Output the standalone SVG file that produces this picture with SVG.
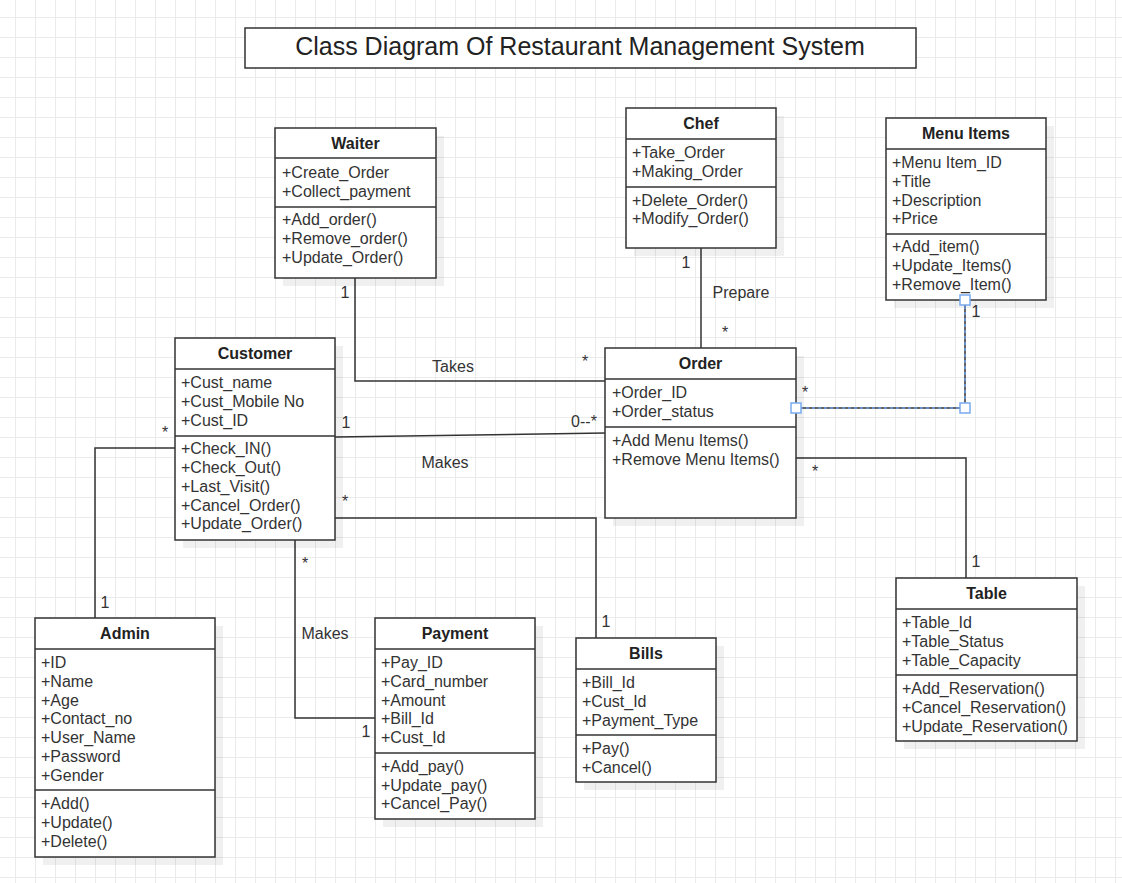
<svg xmlns="http://www.w3.org/2000/svg" width="1122" height="883" viewBox="0 0 1122 883">
<defs>
<pattern id="grid" patternUnits="userSpaceOnUse" x="15" y="17" width="20" height="20">
<path d="M0 0.5 H20 M0.5 0 V20" stroke="#ebebeb" stroke-width="1" fill="none"/>
</pattern>
<style>
.box{fill:#fff;stroke:#333;stroke-width:1.5}
.sh{fill:#000;fill-opacity:0.06}
.div{stroke:#333;stroke-width:1.5}
.t{font-family:"Liberation Sans",Arial,sans-serif;font-size:16px;fill:#333}
.h{font-family:"Liberation Sans",Arial,sans-serif;font-size:16px;font-weight:bold;fill:#222;text-anchor:middle}
.lbl{font-family:"Liberation Sans",Arial,sans-serif;font-size:16px;fill:#333;text-anchor:middle}
.ln{fill:none;stroke:#333;stroke-width:1.5}
.sel{fill:none;stroke:#6a9fe6;stroke-width:1.5;stroke-dasharray:3 3}
.hd{fill:#fff;stroke:#7aaaf0;stroke-width:1.5}
</style>
</defs>
<rect width="1122" height="883" fill="#fff"/>
<rect width="1122" height="883" fill="url(#grid)"/>

<g id="title">
<rect x="245" y="28" width="671" height="40" fill="#fff" stroke="#333" stroke-width="1.5"/>
<text x="580" y="55" font-family="Liberation Sans,Arial,sans-serif" font-size="25" fill="#222" text-anchor="middle">Class Diagram Of Restaurant Management System</text>
</g>

<g id="connectors">
<polyline class="ln" points="355,278 355,381 605,381"/>
<polyline class="ln" points="701,248 701,348"/>
<polyline class="ln" points="965,300 965,408 796,408"/>
<polyline class="sel" points="965,300 965,408 796,408"/>
<polyline class="ln" points="335,437 605,433"/>
<polyline class="ln" points="175,448 95,448 95,618"/>
<polyline class="ln" points="335,518 596,518 596,638"/>
<polyline class="ln" points="295,540 295,718 375,718"/>
<polyline class="ln" points="796,458 966,458 966,578"/>
<text class="lbl" x="345" y="298">1</text>
<text class="lbl" x="453" y="372">Takes</text>
<text class="lbl" x="585" y="367">*</text>
<text class="lbl" x="686" y="268">1</text>
<text class="lbl" x="741" y="298">Prepare</text>
<text class="lbl" x="725" y="338">*</text>
<text class="lbl" x="976" y="317">1</text>
<text class="lbl" x="805" y="398">*</text>
<text class="lbl" x="346" y="428">1</text>
<text class="lbl" x="584" y="427">0--*</text>
<text class="lbl" x="445" y="468">Makes</text>
<text class="lbl" x="165" y="438">*</text>
<text class="lbl" x="105" y="608">1</text>
<text class="lbl" x="345" y="507">*</text>
<text class="lbl" x="606" y="627">1</text>
<text class="lbl" x="305" y="569">*</text>
<text class="lbl" x="325" y="639">Makes</text>
<text class="lbl" x="366" y="737">1</text>
<text class="lbl" x="815" y="477">*</text>
<text class="lbl" x="976" y="567">1</text>
</g>

<g id="waiter">
<rect class="sh" x="283" y="136" width="161" height="150"/>
<rect class="box" x="275" y="128" width="161" height="150"/>
<line class="div" x1="275" y1="158" x2="436" y2="158"/>
<line class="div" x1="275" y1="207" x2="436" y2="207"/>
<text class="h" x="355.5" y="149">Waiter</text>
<text class="t" x="282" y="178">+Create_Order</text>
<text class="t" x="282" y="197">+Collect_payment</text>
<text class="t" x="282" y="225">+Add_order()</text>
<text class="t" x="282" y="244">+Remove_order()</text>
<text class="t" x="282" y="263">+Update_Order()</text>
</g>

<g id="chef">
<rect class="sh" x="634" y="116" width="150" height="140"/>
<rect class="box" x="626" y="108" width="150" height="140"/>
<line class="div" x1="626" y1="139" x2="776" y2="139"/>
<line class="div" x1="626" y1="187" x2="776" y2="187"/>
<text class="h" x="701" y="129">Chef</text>
<text class="t" x="632" y="158">+Take_Order</text>
<text class="t" x="632" y="177">+Making_Order</text>
<text class="t" x="632" y="206">+Delete_Order()</text>
<text class="t" x="632" y="224">+Modify_Order()</text>
</g>

<g id="menu-items">
<rect class="sh" x="894" y="126" width="160" height="182"/>
<rect class="box" x="886" y="118" width="160" height="182"/>
<line class="div" x1="886" y1="149" x2="1046" y2="149"/>
<line class="div" x1="886" y1="234" x2="1046" y2="234"/>
<text class="h" x="966" y="139">Menu Items</text>
<text class="t" x="892" y="168">+Menu Item_ID</text>
<text class="t" x="892" y="187">+Title</text>
<text class="t" x="892" y="206">+Description</text>
<text class="t" x="892" y="224">+Price</text>
<text class="t" x="892" y="252">+Add_item()</text>
<text class="t" x="892" y="271">+Update_Items()</text>
<text class="t" x="892" y="290">+Remove_Item()</text>
</g>

<g id="customer">
<rect class="sh" x="183" y="346" width="160" height="202"/>
<rect class="box" x="175" y="338" width="160" height="202"/>
<line class="div" x1="175" y1="369" x2="335" y2="369"/>
<line class="div" x1="175" y1="436" x2="335" y2="436"/>
<text class="h" x="255" y="359">Customer</text>
<text class="t" x="181" y="388">+Cust_name</text>
<text class="t" x="181" y="407">+Cust_Mobile No</text>
<text class="t" x="181" y="426">+Cust_ID</text>
<text class="t" x="181" y="454">+Check_IN()</text>
<text class="t" x="181" y="473">+Check_Out()</text>
<text class="t" x="181" y="492">+Last_Visit()</text>
<text class="t" x="181" y="511">+Cancel_Order()</text>
<text class="t" x="181" y="529">+Update_Order()</text>
</g>

<g id="order">
<rect class="sh" x="613" y="356" width="191" height="170"/>
<rect class="box" x="605" y="348" width="191" height="170"/>
<line class="div" x1="605" y1="379" x2="796" y2="379"/>
<line class="div" x1="605" y1="427" x2="796" y2="427"/>
<text class="h" x="700.5" y="369">Order</text>
<text class="t" x="612" y="398">+Order_ID</text>
<text class="t" x="612" y="417">+Order_status</text>
<text class="t" x="612" y="446">+Add Menu Items()</text>
<text class="t" x="612" y="465">+Remove Menu Items()</text>
</g>

<g id="admin">
<rect class="sh" x="43" y="626" width="180" height="239"/>
<rect class="box" x="35" y="618" width="180" height="239"/>
<line class="div" x1="35" y1="649" x2="215" y2="649"/>
<line class="div" x1="35" y1="790" x2="215" y2="790"/>
<text class="h" x="125" y="639">Admin</text>
<text class="t" x="41" y="668">+ID</text>
<text class="t" x="41" y="687">+Name</text>
<text class="t" x="41" y="706">+Age</text>
<text class="t" x="41" y="724">+Contact_no</text>
<text class="t" x="41" y="743">+User_Name</text>
<text class="t" x="41" y="762">+Password</text>
<text class="t" x="41" y="781">+Gender</text>
<text class="t" x="41" y="809">+Add()</text>
<text class="t" x="41" y="828">+Update()</text>
<text class="t" x="41" y="847">+Delete()</text>
</g>

<g id="payment">
<rect class="sh" x="383" y="626" width="160" height="201"/>
<rect class="box" x="375" y="618" width="160" height="201"/>
<line class="div" x1="375" y1="649" x2="535" y2="649"/>
<line class="div" x1="375" y1="753" x2="535" y2="753"/>
<text class="h" x="455" y="639">Payment</text>
<text class="t" x="381" y="668">+Pay_ID</text>
<text class="t" x="381" y="687">+Card_number</text>
<text class="t" x="381" y="706">+Amount</text>
<text class="t" x="381" y="724">+Bill_Id</text>
<text class="t" x="381" y="743">+Cust_Id</text>
<text class="t" x="381" y="772">+Add_pay()</text>
<text class="t" x="381" y="791">+Update_pay()</text>
<text class="t" x="381" y="809">+Cancel_Pay()</text>
</g>

<g id="bills">
<rect class="sh" x="584" y="646" width="140" height="144"/>
<rect class="box" x="576" y="638" width="140" height="144"/>
<line class="div" x1="576" y1="669" x2="716" y2="669"/>
<line class="div" x1="576" y1="735" x2="716" y2="735"/>
<text class="h" x="646" y="659">Bills</text>
<text class="t" x="582" y="688">+Bill_Id</text>
<text class="t" x="582" y="707">+Cust_Id</text>
<text class="t" x="582" y="726">+Payment_Type</text>
<text class="t" x="582" y="754">+Pay()</text>
<text class="t" x="582" y="773">+Cancel()</text>
</g>

<g id="table">
<rect class="sh" x="904" y="586" width="181" height="163"/>
<rect class="box" x="896" y="578" width="181" height="163"/>
<line class="div" x1="896" y1="609" x2="1077" y2="609"/>
<line class="div" x1="896" y1="675" x2="1077" y2="675"/>
<text class="h" x="986.5" y="599">Table</text>
<text class="t" x="902" y="628">+Table_Id</text>
<text class="t" x="902" y="647">+Table_Status</text>
<text class="t" x="902" y="666">+Table_Capacity</text>
<text class="t" x="902" y="694">+Add_Reservation()</text>
<text class="t" x="902" y="713">+Cancel_Reservation()</text>
<text class="t" x="902" y="732">+Update_Reservation()</text>
</g>

<g id="selection-handles">
<rect class="hd" x="960" y="295" width="10" height="10"/>
<rect class="hd" x="960" y="403" width="10" height="10"/>
<rect class="hd" x="791" y="403" width="10" height="10"/>
</g>
</svg>
